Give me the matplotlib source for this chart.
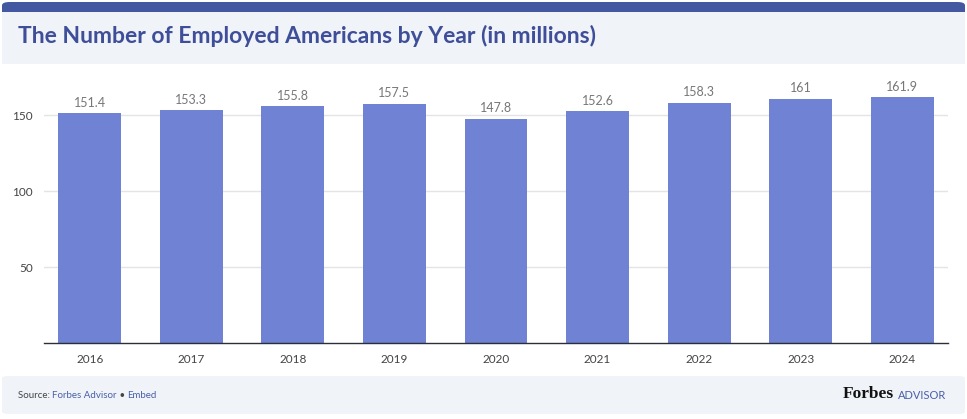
import matplotlib.pyplot as plt
from matplotlib.patches import FancyBboxPatch, Rectangle

years = ['2016', '2017', '2018', '2019', '2020', '2021', '2022', '2023', '2024']
employed = [151.4, 153.3, 155.8, 157.5, 147.8, 152.6, 158.3, 161, 161.9]
value_labels = ['151.4', '153.3', '155.8', '157.5', '147.8', '152.6', '158.3', '161', '161.9']

W, H = 967, 419
fig = plt.figure(figsize=(W / 100, H / 100), dpi=100)
fig.patch.set_facecolor('white')

def px(x, y, w, h):
    # pixel box (top-left origin) to figure fraction
    return x / W, 1 - (y + h) / H, w / W, h / H

# header: dark strip + light panel
x0, y0, w0, h0 = px(2, 2, 963, 20)
fig.patches.append(FancyBboxPatch((x0, y0), w0, h0, boxstyle='round,pad=0,rounding_size=0.008',
                                  transform=fig.transFigure, facecolor='#4458A2', edgecolor='none'))
x0, y0, w0, h0 = px(2, 12, 963, 52)
fig.patches.append(Rectangle((x0, y0), w0, h0, transform=fig.transFigure,
                             facecolor='#F0F4F9', edgecolor='none'))
fig.text(18 / W, 1 - 36 / H, 'The Number of Employed Americans by Year (in millions)',
         fontsize=16.5, fontweight='bold', color='#3F4E99', family='Lato', va='center')

# footer panel
x0, y0, w0, h0 = px(2, 376, 963, 38)
fig.patches.append(FancyBboxPatch((x0, y0), w0, h0, boxstyle='round,pad=0,rounding_size=0.006',
                                  transform=fig.transFigure, facecolor='#F0F4F9', edgecolor='none'))
fy = 1 - 395 / H
t = fig.text(18 / W, fy, 'Source: ', fontsize=7, color='#444444', family='Lato', va='center')
fig.canvas.draw()
r = fig.canvas.get_renderer()
bb = t.get_window_extent(r)
t2 = fig.text(bb.x1 / W, fy, 'Forbes Advisor', fontsize=7, color='#4A5FA8', family='Lato', va='center')
bb = t2.get_window_extent(r)
t3 = fig.text(bb.x1 / W, fy, ' \u2022 ', fontsize=7, color='#444444', family='Lato', va='center')
bb = t3.get_window_extent(r)
fig.text(bb.x1 / W, fy, 'Embed', fontsize=7, color='#4A5FA8', family='Lato', va='center')

ta = fig.text(946 / W, fy, 'ADVISOR', fontsize=8, color='#4A5FA8', family='Lato', va='center', ha='right')
bb = ta.get_window_extent(r)
fig.text((bb.x0 - 4) / W, fy + 0.003, 'Forbes', fontsize=12.5, fontweight='bold', color='#111111',
         family='Liberation Serif', va='center', ha='right')

# chart
ax = fig.add_axes([44 / W, 1 - 343 / H, (948 - 44) / W, 0.598])
x = range(len(years))
bars = ax.bar(x, employed, width=0.62, color='#6F82D4', zorder=2)
for xi, v, lab in zip(x, employed, value_labels):
    ax.text(xi, v + 3, lab, ha='center', va='bottom', fontsize=9, color='#777777', family='Lato')

ax.set_xlim(-0.45, 8.45)
ax.set_ylim(0, 165)
ax.set_xticks(list(x))
ax.set_xticklabels(years)
ax.set_yticks([50, 100, 150])
ax.yaxis.grid(True, color='#E4E4E4', linewidth=1, zorder=0)
ax.tick_params(axis='both', length=0, labelsize=8.5, labelcolor='#444444', pad=8)
for lab in ax.get_xticklabels() + ax.get_yticklabels():
    lab.set_family('Lato')
for s in ['top', 'right', 'left']:
    ax.spines[s].set_visible(False)
ax.spines['bottom'].set_color('#2B2F3A')
ax.spines['bottom'].set_linewidth(1)

fig.savefig('out.png', dpi=100)
